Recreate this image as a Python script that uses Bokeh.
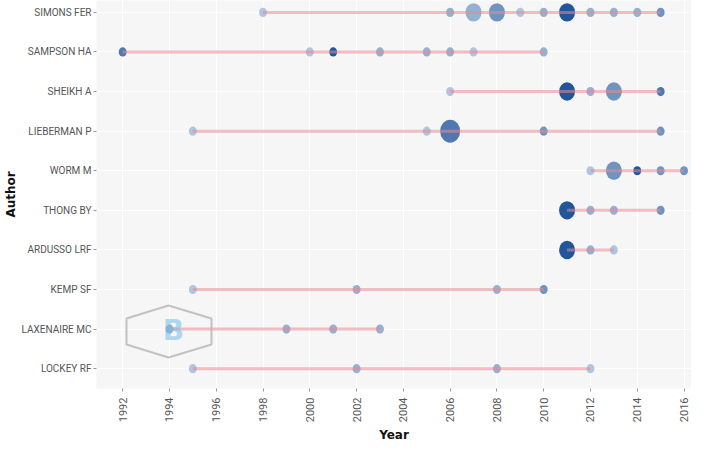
import math
from bokeh.plotting import figure
from bokeh.models import (ColumnDataSource, LinearColorMapper, FixedTicker,
                          SingleIntervalTicker, Range1d, PolyAnnotation, Label)
from bokeh.transform import transform
from bokeh.embed import file_html
from bokeh.resources import INLINE

# Authors, bottom to top
authors = ["LOCKEY RF", "LAXENAIRE MC", "KEMP SF", "ARDUSSO LRF", "THONG BY",
           "WORM M", "LIEBERMAN P", "SHEIKH A", "SAMPSON HA", "SIMONS FER"]

# Per-author publication years, number of articles, citation level (1 = low, 5 = high)
simons_years = [1998, 2006, 2007, 2008, 2009, 2010, 2011, 2012, 2013, 2014, 2015]
simons_articles = [1, 1, 3, 3, 1, 1, 3, 1, 1, 1, 1]
simons_level = [1, 2, 2, 3, 1, 2, 5, 2, 2, 2, 3]

sampson_years = [1992, 2000, 2001, 2003, 2005, 2006, 2007, 2010]
sampson_articles = [1, 1, 1, 1, 1, 1, 1, 1]
sampson_level = [4, 1, 5, 2, 2, 2, 1, 2]

sheikh_years = [2006, 2011, 2012, 2013, 2015]
sheikh_articles = [1, 3, 1, 3, 1]
sheikh_level = [1, 5, 2, 3, 4]

lieberman_years = [1995, 2005, 2006, 2010, 2015]
lieberman_articles = [1, 1, 4, 1, 1]
lieberman_level = [1, 1, 4, 3, 3]

worm_years = [2012, 2013, 2014, 2015, 2016]
worm_articles = [1, 3, 1, 1, 1]
worm_level = [1, 3, 5, 3, 3]

thong_years = [2011, 2012, 2013, 2015]
thong_articles = [3, 1, 1, 1]
thong_level = [5, 2, 2, 3]

ardusso_years = [2011, 2012, 2013]
ardusso_articles = [3, 1, 1]
ardusso_level = [5, 2, 1]

kemp_years = [1995, 2002, 2008, 2010]
kemp_articles = [1, 1, 1, 1]
kemp_level = [1, 2, 2, 3]

laxenaire_years = [1994, 1999, 2001, 2003]
laxenaire_articles = [1, 1, 1, 1]
laxenaire_level = [2, 2, 2, 2]

lockey_years = [1995, 2002, 2008, 2012]
lockey_articles = [1, 1, 1, 1]
lockey_level = [1, 2, 2, 1]

series = {
    "SIMONS FER": (simons_years, simons_articles, simons_level),
    "SAMPSON HA": (sampson_years, sampson_articles, sampson_level),
    "SHEIKH A": (sheikh_years, sheikh_articles, sheikh_level),
    "LIEBERMAN P": (lieberman_years, lieberman_articles, lieberman_level),
    "WORM M": (worm_years, worm_articles, worm_level),
    "THONG BY": (thong_years, thong_articles, thong_level),
    "ARDUSSO LRF": (ardusso_years, ardusso_articles, ardusso_level),
    "KEMP SF": (kemp_years, kemp_articles, kemp_level),
    "LAXENAIRE MC": (laxenaire_years, laxenaire_articles, laxenaire_level),
    "LOCKEY RF": (lockey_years, lockey_articles, lockey_level),
}

# Build sources
px, py, pw, ph, pl = [], [], [], [], []
sx0, sx1, sy = [], [], []
for i, a in enumerate(authors):
    yrs, arts, lv = series[a]
    for yr, n, l in zip(yrs, arts, lv):
        px.append(yr)
        py.append(i)
        w = 4 + 4 * n
        pw.append(w)
        ph.append(w * 1.15)
        pl.append(l)
    sx0.append(min(yrs))
    sx1.append(max(yrs))
    sy.append(i)

pts = ColumnDataSource(dict(x=px, y=py, w=pw, h=ph, level=pl))
segs = ColumnDataSource(dict(x0=sx0, x1=sx1, y=sy))

FONT = "Roboto"

p = figure(width=691, height=445, output_backend="svg", toolbar_location=None,
           x_range=Range1d(1990.88, 2016.32), y_range=Range1d(-0.5, 9.3),
           min_border_left=10, min_border_right=0, min_border_top=0,
           min_border_bottom=0)
p.background_fill_color = "#f6f6f6"
p.border_fill_color = "white"
p.outline_line_color = None

mapper = LinearColorMapper(palette=["#a9c0de", "#8aa8cf", "#6089bb", "#3d6ca6", "#0a4690"],
                           low=1, high=5)

p.ellipse(x="x", y="y", width="w", height="h", width_units="screen",
          height_units="screen", source=pts,
          fill_color=transform("level", mapper), fill_alpha=0.9, line_color=None)

p.segment(x0="x0", x1="x1", y0="y", y1="y", source=segs,
          line_color="#e58a93", line_width=3, line_alpha=0.55)

# axes
p.xaxis.ticker = SingleIntervalTicker(interval=2, num_minor_ticks=0)
p.yaxis.ticker = FixedTicker(ticks=list(range(len(authors))))
p.yaxis.major_label_overrides = {i: a for i, a in enumerate(authors)}

for ax in (p.xaxis, p.yaxis):
    ax.axis_line_color = None
    ax.minor_tick_line_color = None
    ax.major_tick_line_color = "#999999"
    ax.major_tick_out = 3
    ax.major_tick_in = 0
    ax.major_label_text_color = "#555555"
    ax.major_label_text_font = FONT
    ax.axis_label_text_font = "DejaVu Sans"
    ax.axis_label_text_font_style = "bold"
    ax.axis_label_text_font_size = "12px"
    ax.axis_label_text_color = "#111111"

p.yaxis.major_label_text_font_size = "10px"
p.xaxis.major_label_text_font_size = "11px"
p.xaxis.major_label_orientation = math.pi / 2
p.xaxis.major_label_standoff = 6
p.xaxis.axis_label = "Year"
p.xaxis.axis_label_standoff = 3
p.yaxis.axis_label = "Author"
p.yaxis.axis_label_standoff = 1
p.yaxis.major_label_standoff = 2

p.xgrid.grid_line_color = "white"
p.xgrid.grid_line_width = 1
p.ygrid.grid_line_color = "white"
p.ygrid.grid_line_width = 1

# watermark (logo outline), frame-relative screen units
hx = [72, 115, 115, 72, 30, 30]
hy = [83, 70, 44, 31, 44, 70]
p.add_layout(PolyAnnotation(xs=hx, ys=hy, xs_units="screen", ys_units="screen",
                            fill_color=None, line_color="#b5b5b5", line_width=2,
                            line_alpha=0.8))
p.add_layout(Label(x=77, y=58, x_units="screen", y_units="screen", text="B",
                   text_color="#6fbde8", text_alpha=0.55, text_font_size="28px",
                   text_align="center", text_baseline="middle",
                   text_font="DejaVu Sans", text_font_style="bold"))

open("out.html", "w").write(file_html(p, INLINE))
